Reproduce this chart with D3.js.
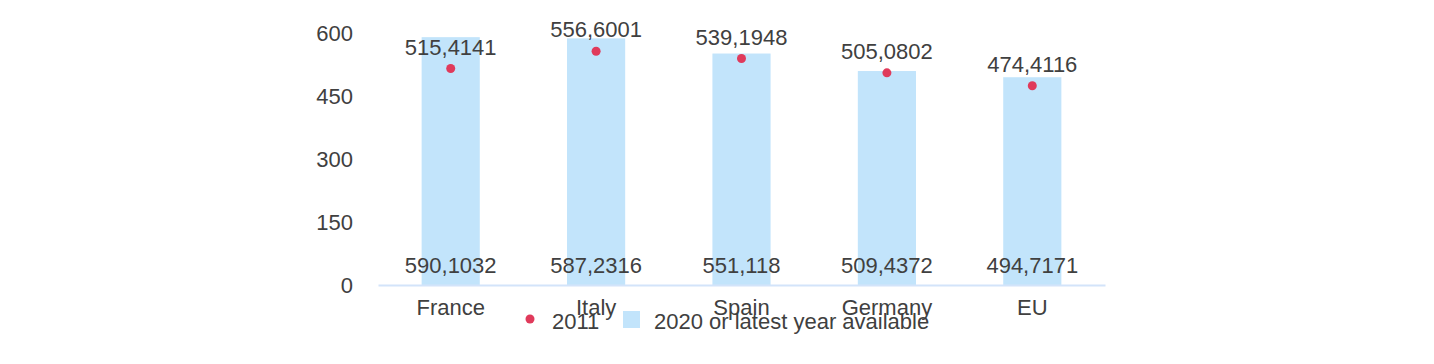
<!DOCTYPE html>
<html>
<head>
<meta charset="utf-8">
<script src="https://cdn.jsdelivr.net/npm/d3@7"></script>
<style>
  body { margin: 0; background: #fff; }
  text { font-family: "Liberation Sans", Arial, Helvetica, sans-serif; fill: #404040; }
</style>
</head>
<body>
<svg id="chart" width="1434" height="364"></svg>
<script>
/* data */
var countries = ["France", "Italy", "Spain", "Germany", "EU"]
var latest = [590.1032, 587.2316, 551.118, 509.4372, 494.7171]
var y2011 = [515.4141, 556.6001, 539.1948, 505.0802, 474.4116]
var latestLabels = ["590,1032", "587,2316", "551,118", "509,4372", "494,7171"]
var labels2011 = ["515,4141", "556,6001", "539,1948", "505,0802", "474,4116"]
var yTicks = [0, 150, 300, 450, 600]
var legendNames = ["2011", "2020 or latest year available"]

var svg = d3.select("#chart")
var fontSize = 22

var x = d3.scaleBand().domain(countries).range([378, 1105]).paddingInner(0.6).paddingOuter(0.3)
var y = d3.scaleLinear().domain([0, 600]).range([285, 33])

// y tick labels (no axis line)
var yAxis = d3.axisLeft(y).tickValues(yTicks).tickSize(0).tickPadding(0)
var gy = svg.append("g").attr("transform", "translate(353,0)").call(yAxis)
gy.select(".domain").remove()
gy.selectAll("text")
  .attr("font-size", fontSize)
  .attr("font-family", null)
  .attr("dy", "0.35em")

// bars
svg.selectAll("rect.bar").data(countries).enter().append("rect")
  .attr("class", "bar")
  .attr("x", function (d) { return x(d) })
  .attr("width", x.bandwidth())
  .attr("y", function (d, i) { return y(latest[i]) })
  .attr("height", function (d, i) { return y(0) - y(latest[i]) })
  .attr("fill", "#c2e4fb")

// x axis line + labels
var xAxis = d3.axisBottom(x).tickSize(0).tickPadding(14)
var gx = svg.append("g").attr("transform", "translate(0," + y(0) + ")").call(xAxis)
gx.select(".domain").attr("stroke", "#d3e4fa").attr("stroke-width", 2)
gx.selectAll("text").attr("font-size", fontSize).attr("font-family", null)

// bar value labels near the base
svg.selectAll("text.blab").data(countries).enter().append("text")
  .attr("class", "blab")
  .attr("x", function (d) { return x(d) + x.bandwidth() / 2 })
  .attr("y", y(0) - 12)
  .attr("text-anchor", "middle")
  .attr("font-size", fontSize)
  .text(function (d, i) { return latestLabels[i] })

// 2011 dots
svg.selectAll("circle.dot").data(countries).enter().append("circle")
  .attr("class", "dot")
  .attr("cx", function (d) { return x(d) + x.bandwidth() / 2 })
  .attr("cy", function (d, i) { return y(y2011[i]) })
  .attr("r", 4.5)
  .attr("fill", "#e03a5b")

svg.selectAll("text.dlab").data(countries).enter().append("text")
  .attr("class", "dlab")
  .attr("x", function (d) { return x(d) + x.bandwidth() / 2 })
  .attr("y", function (d, i) { return y(y2011[i]) - 14 })
  .attr("text-anchor", "middle")
  .attr("font-size", fontSize)
  .text(function (d, i) { return labels2011[i] })

// legend
var lg = svg.append("g").attr("transform", "translate(0,320)")
lg.append("circle").attr("cx", 530).attr("cy", -1).attr("r", 4.5).attr("fill", "#e03a5b")
lg.append("text").attr("x", 552).attr("y", 9).attr("font-size", fontSize).text(legendNames[0])
lg.append("rect").attr("x", 623).attr("y", -9).attr("width", 17).attr("height", 17).attr("fill", "#c2e4fb")
lg.append("text").attr("x", 654).attr("y", 9).attr("font-size", fontSize).text(legendNames[1])
</script>
</body>
</html>
